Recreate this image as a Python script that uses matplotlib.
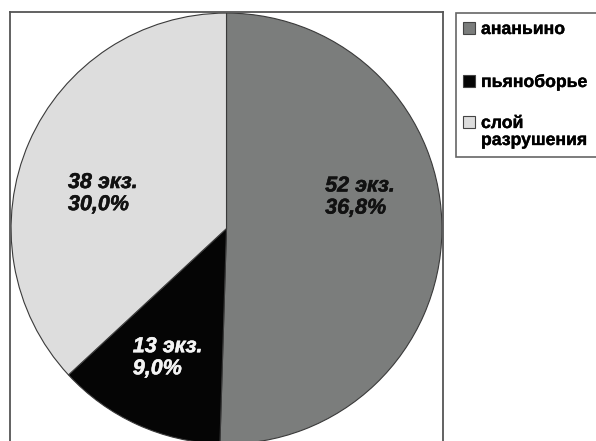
import matplotlib.pyplot as plt
import matplotlib.patheffects as pe
from matplotlib.patches import Rectangle

plt.rcParams['font.family'] = ['Liberation Sans', 'DejaVu Sans']

# Finds by culture layer
categories = ["ананьино", "пьяноборье", "слой\nразрушения"]
counts = [52, 13, 38]
percent_labels = ["36,8%", "9,0%", "30,0%"]
colors = ["#7b7d7c", "#050505", "#dddddd"]
text_colors = ["#111111", "#f4f4f4", "#111111"]

# label anchors (left edge / vertical centre) in pie units
label_pos = [(0.458, 0.146), (-0.435, -0.60), (-0.736, 0.162)]

fig = plt.figure(figsize=(5.96, 4.41), dpi=100)
W, H = 596, 441

ax = fig.add_axes([10 / W, (H - 12 - 433) / H, 433 / W, 433 / H])
wedges, _ = ax.pie(
    counts,
    colors=colors,
    startangle=90,
    counterclock=False,
    wedgeprops={"edgecolor": "#3a3a3a", "linewidth": 0.8},
)
ax.set_xlim(-1.005, 1.005)
ax.set_ylim(-1.005, 1.005)
ax.set_frame_on(True)
for s in ax.spines.values():
    s.set_color("#555555")
    s.set_linewidth(1.3)

for n, pct, (x, y), tc in zip(counts, percent_labels, label_pos, text_colors):
    ax.text(x, y, f"{n} экз.\n{pct}", ha="left", va="center",
            fontsize=15.5, fontweight="bold", fontstyle="italic",
            color=tc, linespacing=1.07,
            path_effects=[pe.withStroke(linewidth=0.35, foreground=tc)])

# legend drawn in pixel coordinates
lg = fig.add_axes([0, 0, 1, 1], zorder=5)
lg.set_xlim(0, W)
lg.set_ylim(H, 0)
lg.axis("off")
lg.patch.set_alpha(0)
lg.add_patch(Rectangle((456, 13), 200, 144, facecolor="white",
                       edgecolor="#666666", linewidth=1.2))
rows_y = [34, 87, 128]
for lab, col, yb in zip(categories, colors, rows_y):
    lg.add_patch(Rectangle((463, yb - 12), 12, 12, facecolor=col,
                           edgecolor="#444444", linewidth=0.8))
    for k, line in enumerate(lab.split("\n")):
        lg.text(481, yb + 17 * k, line, ha="left", va="baseline",
                fontsize=12.7, fontweight="bold", color="black",
                path_effects=[pe.withStroke(linewidth=0.25, foreground="black")])

fig.savefig("out.png", dpi=100)
